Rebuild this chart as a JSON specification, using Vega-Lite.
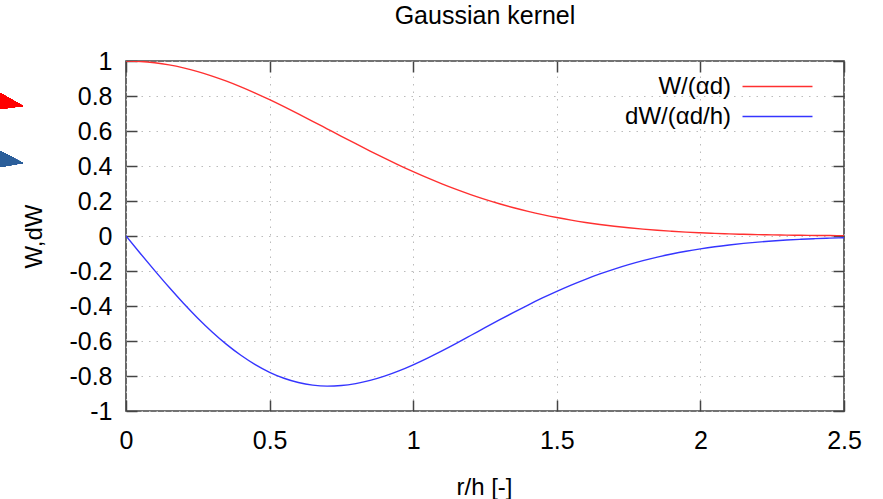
{
  "$schema": "https://vega.github.io/schema/vega-lite/v6.json",
  "width": 718,
  "height": 350,
  "autosize": {"type": "none"},
  "padding": {"left": 126, "top": 61, "right": 39, "bottom": 88},
  "background": "white",
  "title": {"text": "Gaussian kernel", "font": "Liberation Sans", "fontSize": 25, "fontWeight": "normal", "color": "#000", "baseline": "alphabetic", "offset": 0, "anchor": "middle"},
  "config": {
    "view": {"stroke": "#444", "strokeWidth": 1.6},
    "font": "Liberation Sans"
  },
  "data": {"values": [
    {"r": 0, "W": 1, "dW": 0},
    {"r": 0.05, "W": 0.9975, "dW": -0.0998},
    {"r": 0.1, "W": 0.9900, "dW": -0.1980},
    {"r": 0.15, "W": 0.9778, "dW": -0.2933},
    {"r": 0.2, "W": 0.9608, "dW": -0.3843},
    {"r": 0.25, "W": 0.9394, "dW": -0.4697},
    {"r": 0.3, "W": 0.9139, "dW": -0.5484},
    {"r": 0.35, "W": 0.8847, "dW": -0.6193},
    {"r": 0.4, "W": 0.8521, "dW": -0.6817},
    {"r": 0.45, "W": 0.8167, "dW": -0.7350},
    {"r": 0.5, "W": 0.7788, "dW": -0.7788},
    {"r": 0.55, "W": 0.7390, "dW": -0.8129},
    {"r": 0.6, "W": 0.6977, "dW": -0.8372},
    {"r": 0.65, "W": 0.6554, "dW": -0.8520},
    {"r": 0.7, "W": 0.6126, "dW": -0.8577},
    {"r": 0.75, "W": 0.5698, "dW": -0.8547},
    {"r": 0.8, "W": 0.5273, "dW": -0.8437},
    {"r": 0.85, "W": 0.4855, "dW": -0.8254},
    {"r": 0.9, "W": 0.4449, "dW": -0.8008},
    {"r": 0.95, "W": 0.4056, "dW": -0.7706},
    {"r": 1.0, "W": 0.3679, "dW": -0.7358},
    {"r": 1.05, "W": 0.3320, "dW": -0.6973},
    {"r": 1.1, "W": 0.2982, "dW": -0.6560},
    {"r": 1.15, "W": 0.2665, "dW": -0.6129},
    {"r": 1.2, "W": 0.2369, "dW": -0.5686},
    {"r": 1.25, "W": 0.2096, "dW": -0.5240},
    {"r": 1.3, "W": 0.1845, "dW": -0.4798},
    {"r": 1.35, "W": 0.1616, "dW": -0.4364},
    {"r": 1.4, "W": 0.1409, "dW": -0.3944},
    {"r": 1.45, "W": 0.1221, "dW": -0.3542},
    {"r": 1.5, "W": 0.1054, "dW": -0.3162},
    {"r": 1.55, "W": 0.0905, "dW": -0.2805},
    {"r": 1.6, "W": 0.0773, "dW": -0.2474},
    {"r": 1.65, "W": 0.0657, "dW": -0.2168},
    {"r": 1.7, "W": 0.0556, "dW": -0.1890},
    {"r": 1.75, "W": 0.0468, "dW": -0.1637},
    {"r": 1.8, "W": 0.0392, "dW": -0.1410},
    {"r": 1.85, "W": 0.0326, "dW": -0.1207},
    {"r": 1.9, "W": 0.0271, "dW": -0.1028},
    {"r": 1.95, "W": 0.0223, "dW": -0.0870},
    {"r": 2.0, "W": 0.0183, "dW": -0.0733},
    {"r": 2.05, "W": 0.0150, "dW": -0.0613},
    {"r": 2.1, "W": 0.0122, "dW": -0.0511},
    {"r": 2.15, "W": 0.0098, "dW": -0.0423},
    {"r": 2.2, "W": 0.0079, "dW": -0.0348},
    {"r": 2.25, "W": 0.0063, "dW": -0.0285},
    {"r": 2.3, "W": 0.0050, "dW": -0.0232},
    {"r": 2.35, "W": 0.0040, "dW": -0.0188},
    {"r": 2.4, "W": 0.0032, "dW": -0.0151},
    {"r": 2.45, "W": 0.0025, "dW": -0.0121},
    {"r": 2.5, "W": 0.0019, "dW": -0.0097}
  ]},
  "resolve": {"axis": {"x": "independent", "y": "independent"}},
  "layer": [
    {
      "transform": [{"fold": ["W", "dW"], "as": ["series", "value"]}],
      "mark": {"type": "line", "strokeWidth": 1.4, "interpolate": "monotone", "clip": true},
      "encoding": {
        "x": {"field": "r", "type": "quantitative",
          "scale": {"domain": [0, 2.5], "nice": false, "zero": false},
          "axis": {"orient": "bottom", "values": [0, 0.5, 1, 1.5, 2, 2.5], "labelExpr": "'' + datum.value",
            "domain": false, "grid": true, "gridColor": "#bbbbbb", "gridDash": [1.5, 6], "gridWidth": 1,
            "tickSize": -11, "tickColor": "#444", "tickWidth": 1.5,
            "labelFontSize": 25, "labelColor": "#000", "labelPadding": 28, "labelFlush": false,
            "title": "r/h [-]", "titleFontSize": 24, "titleFontWeight": "normal", "titleColor": "#000",
            "titleBaseline": "alphabetic", "titleY": 83, "titleX": 358}},
        "y": {"field": "value", "type": "quantitative",
          "scale": {"domain": [-1, 1], "nice": false, "zero": false},
          "axis": {"orient": "left", "values": [-1, -0.8, -0.6, -0.4, -0.2, 0, 0.2, 0.4, 0.6, 0.8, 1], "labelExpr": "'' + datum.value",
            "domain": false, "grid": true, "gridColor": "#bbbbbb", "gridDash": [1.5, 6], "gridWidth": 1,
            "tickSize": -11, "tickColor": "#444", "tickWidth": 1.5,
            "labelFontSize": 25, "labelColor": "#000", "labelPadding": 25, "labelFlush": false,
            "title": "W,dW", "titleFontSize": 24, "titleFontWeight": "normal", "titleColor": "#000",
            "titleAngle": -90, "titleBaseline": "alphabetic", "titleAlign": "center", "titleX": -85, "titleY": 175}},
        "color": {"field": "series", "type": "nominal",
          "scale": {"domain": ["W", "dW"], "range": ["#ff3030", "#3535ff"]},
          "legend": {"orient": "none", "legendX": 639, "legendY": 13, "title": null, "padding": 0,
            "symbolType": "M -3 0 H 3", "symbolSize": 544, "symbolStrokeWidth": 1.5, "symbolFillColor": "transparent",
            "labelExpr": "datum.label == 'W' ? 'W/(αd)' : 'dW/(αd/h)'",
            "labelAlign": "right", "labelOffset": -59, "labelFontSize": 24, "labelColor": "#000",
            "labelLimit": 300, "rowPadding": 5}}
      }
    },
    {
      "mark": {"type": "point", "shape": "M -1 -0.91 L 1 0.22 L -1 0.48 Z", "filled": true, "size": 2116, "color": "#ff0000", "opacity": 1},
      "encoding": {
        "x": {"datum": -0.4387, "type": "quantitative",
          "axis": {"orient": "top", "values": [0, 0.5, 1, 1.5, 2, 2.5], "labels": false, "domain": false, "grid": false,
            "tickSize": -11, "tickColor": "#444", "tickWidth": 1.5, "title": null}},
        "y": {"datum": 0.7714, "type": "quantitative",
          "axis": {"orient": "right", "values": [-1, -0.8, -0.6, -0.4, -0.2, 0, 0.2, 0.4, 0.6, 0.8, 1], "labels": false, "domain": false, "grid": false,
            "tickSize": -11, "tickColor": "#444", "tickWidth": 1.5, "title": null}}
      }
    },
    {
      "mark": {"type": "point", "shape": "M -1 -0.87 L 1 0.17 L -1 0.52 Z", "filled": true, "size": 2116, "color": "#2c5f9a", "opacity": 1},
      "encoding": {
        "x": {"datum": -0.4387, "type": "quantitative", "axis": null},
        "y": {"datum": 0.44, "type": "quantitative", "axis": null}
      }
    }
  ]
}
